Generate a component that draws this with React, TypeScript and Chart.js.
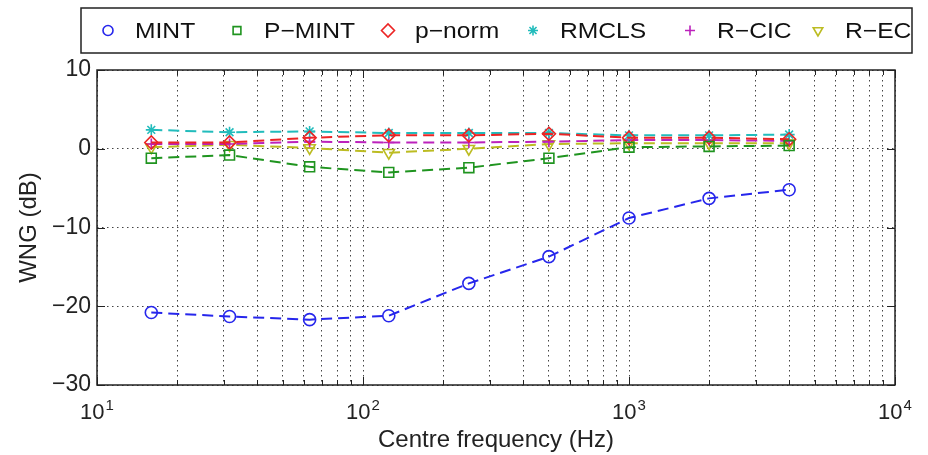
import React, { useEffect, useRef } from 'react';
import { Chart, registerables } from 'chart.js';
import { drawPoint } from 'chart.js/helpers';

Chart.register(...registerables);

// ---- data ----
const frequencies = [16, 31.5, 63, 125, 250, 500, 1000, 2000, 4000];
const seriesNames = ['MINT', 'P\u2212MINT', 'p\u2212norm', 'RMCLS', 'R\u2212CIC', 'R\u2212EC'];
const mintValues = [-20.8, -21.3, -21.7, -21.2, -17.1, -13.7, -8.8, -6.3, -5.2];
const pMintValues = [-1.2, -0.8, -2.3, -3.0, -2.4, -1.2, 0.2, 0.3, 0.4];
const pNormValues = [0.8, 0.8, 1.4, 1.7, 1.7, 1.9, 1.4, 1.4, 1.2];
const rmclsValues = [2.4, 2.1, 2.2, 2.0, 2.0, 2.0, 1.7, 1.7, 1.8];
const rCicValues = [0.6, 0.6, 0.9, 0.8, 0.8, 0.9, 1.1, 1.1, 1.0];
const rEcValues = [0.2, 0.5, 0.1, -0.5, 0.0, 0.6, 0.7, 0.7, 0.7];

const xGridValues = [
  10, 20, 30, 40, 50, 60, 70, 80, 90,
  100, 200, 300, 400, 500, 600, 700, 800, 900,
  1000, 2000, 3000, 4000, 5000, 6000, 7000, 8000, 9000,
  10000,
];
const xMajorValues = [10, 100, 1000, 10000];
const xTickBase = '10';
const xTickExponents = ['1', '2', '3', '4'];
const yTickValues = [10, 0, -10, -20, -30];
const yTickLabels = ['10', '0', '\u221210', '\u221220', '\u221230'];
const xAxisTitle = 'Centre frequency (Hz)';
const yAxisTitle = 'WNG (dB)';

// ---- styles ----
const seriesValues = [mintValues, pMintValues, pNormValues, rmclsValues, rCicValues, rEcValues];
const seriesColors = ['#2626ec', '#1f941f', '#ec2424', '#22bcbc', '#bc22bc', '#bcbc22'];
const seriesPointStyles = ['circle', 'rect', 'rectRot', 'star', 'cross', 'triangle'];
const seriesRotations = [0, 0, 0, 0, 0, 180];
const seriesRadius = [6, 7, 6.5, 5.5, 5.5, 6.5];
const legendRadius = [5, 5.5, 6.5, 5, 5, 5.5];
const legendMarkerX = [108, 237, 388, 533, 690, 818];
const FONT = '"Liberation Sans", Arial, Helvetica, sans-serif';

const framePlugin = {
  id: 'matlabFrame',
  afterDatasetsDraw(chart: any) {
    const { ctx, chartArea } = chart;
    const { left, right, top, bottom } = chartArea;
    const xs = chart.scales.x;
    const ys = chart.scales.y;
    ctx.save();
    ctx.strokeStyle = '#222';
    ctx.lineWidth = 1;
    ctx.beginPath();
    xGridValues.forEach((v) => {
      const px = Math.round(xs.getPixelForValue(v)) + 0.5;
      const len = xMajorValues.includes(v) ? 8 : 5;
      ctx.moveTo(px, bottom);
      ctx.lineTo(px, bottom - len);
      ctx.moveTo(px, top);
      ctx.lineTo(px, top + len);
    });
    yTickValues.forEach((v) => {
      const py = Math.round(ys.getPixelForValue(v)) + 0.5;
      ctx.moveTo(left, py);
      ctx.lineTo(left + 8, py);
      ctx.moveTo(right, py);
      ctx.lineTo(right - 8, py);
    });
    ctx.stroke();
    ctx.lineWidth = 1.5;
    ctx.strokeStyle = '#222';
    ctx.strokeRect(left, top, right - left, bottom - top);
    ctx.restore();
  },
  afterDraw(chart: any) {
    // x tick labels as 10 with a raised exponent
    const { ctx, chartArea } = chart;
    const xs = chart.scales.x;
    ctx.save();
    ctx.fillStyle = '#222';
    ctx.textBaseline = 'alphabetic';
    ctx.textAlign = 'left';
    xMajorValues.forEach((v, i) => {
      const px = xs.getPixelForValue(v);
      ctx.font = `22px ${FONT}`;
      const wb = ctx.measureText(xTickBase).width;
      ctx.font = `15px ${FONT}`;
      const we = ctx.measureText(xTickExponents[i]).width;
      const x0 = px - (wb + we + 1) / 2;
      const baseY = chartArea.bottom + 34;
      ctx.font = `22px ${FONT}`;
      ctx.fillText(xTickBase, x0, baseY);
      ctx.font = `15px ${FONT}`;
      ctx.fillText(xTickExponents[i], x0 + wb + 1, baseY - 9);
    });
    ctx.restore();
  },
};

const legendPlugin = {
  id: 'matlabLegend',
  afterDraw(chart: any) {
    const ctx = chart.ctx;
    const bx = 81, by = 8, bw = 912 - 81, bh = 53 - 8;
    ctx.save();
    ctx.fillStyle = '#fff';
    ctx.fillRect(bx, by, bw, bh);
    ctx.strokeStyle = '#222';
    ctx.lineWidth = 1.5;
    ctx.strokeRect(bx, by, bw, bh);
    ctx.beginPath();
    ctx.rect(bx, by, bw, bh);
    ctx.clip();
    const cy = 30.5;
    seriesNames.forEach((name, i) => {
      const mx = legendMarkerX[i];
      ctx.strokeStyle = seriesColors[i];
      ctx.fillStyle = 'rgba(0,0,0,0)';
      ctx.lineWidth = 1.6;
      drawPoint(
        ctx,
        { pointStyle: seriesPointStyles[i], rotation: seriesRotations[i], radius: legendRadius[i], borderWidth: 1.6 },
        mx,
        cy
      );
      ctx.fillStyle = '#111';
      ctx.font = `22px ${FONT}`;
      ctx.textBaseline = 'middle';
      ctx.textAlign = 'left';
      ctx.save();
      ctx.translate(mx + 27, cy + 1);
      ctx.scale(1.12, 1);
      ctx.fillText(name, 0, 0);
      ctx.restore();
    });
    ctx.restore();
  },
};

export default function App() {
  const canvasRef = useRef<HTMLCanvasElement | null>(null);

  useEffect(() => {
    if (!canvasRef.current) return;
    const datasets = seriesNames.map((name, i) => ({
      label: name,
      data: frequencies.map((f, j) => ({ x: f, y: seriesValues[i][j] })),
      borderColor: seriesColors[i],
      backgroundColor: 'rgba(0,0,0,0)',
      borderWidth: 2,
      borderDash: [11, 6],
      pointStyle: seriesPointStyles[i],
      pointRotation: seriesRotations[i],
      pointRadius: seriesRadius[i],
      pointBorderWidth: 1.6,
      pointBorderColor: seriesColors[i],
      pointBackgroundColor: 'rgba(0,0,0,0)',
      fill: false,
      tension: 0,
    }));

    const chart = new Chart(canvasRef.current, {
      type: 'line',
      data: { datasets },
      options: {
        animation: false,
        responsive: false,
        maintainAspectRatio: false,
        devicePixelRatio: 1,
        layout: { padding: { left: 0, right: 33, top: 70, bottom: 0 } },
        plugins: {
          legend: { display: false },
          tooltip: { enabled: false },
          title: { display: false },
        },
        scales: {
          x: {
            type: 'logarithmic',
            min: 10,
            max: 10000,
            afterBuildTicks: (scale: any) => {
              scale.ticks = xGridValues.map((v) => ({ value: v, major: xMajorValues.includes(v) }));
            },
            afterFit: (scale: any) => {
              scale.height = 70;
            },
            ticks: {
              autoSkip: false,
              maxRotation: 0,
              minRotation: 0,
              padding: 9,
              color: '#222',
              font: { family: FONT, size: 22 },
              callback: () => '',
            },
            grid: {
              display: true,
              drawTicks: false,
              color: '#444',
              lineWidth: 1,
            },
            border: { display: false, dash: [1.5, 3.5] },
            title: {
              display: true,
              text: xAxisTitle,
              color: '#222',
              font: { family: FONT, size: 24 },
              padding: { top: 0, bottom: 0 },
            },
          },
          y: {
            type: 'linear',
            min: -30,
            max: 10,
            afterBuildTicks: (scale: any) => {
              scale.ticks = yTickValues.map((v) => ({ value: v }));
            },
            afterFit: (scale: any) => {
              scale.width = 97;
            },
            ticks: {
              padding: 6,
              color: '#222',
              font: { family: FONT, size: 23 },
              callback: (value: any) => {
                const idx = yTickValues.indexOf(Number(value));
                return idx >= 0 ? yTickLabels[idx] : '';
              },
            },
            grid: {
              display: true,
              drawTicks: false,
              color: '#444',
              lineWidth: 1,
            },
            border: { display: false, dash: [1.5, 3.5] },
            title: {
              display: true,
              text: yAxisTitle,
              color: '#222',
              font: { family: FONT, size: 24 },
              padding: { top: 15, bottom: 0 },
            },
          },
        },
      },
      plugins: [framePlugin, legendPlugin],
    } as any);

    return () => {
      chart.destroy();
    };
  }, []);

  return (
    <div style={{ position: 'fixed', left: 0, top: 0, width: 928, height: 455, background: '#fff' }}>
      <canvas ref={canvasRef} width={928} height={455} style={{ display: 'block', width: 928, height: 455 }} />
    </div>
  );
}
